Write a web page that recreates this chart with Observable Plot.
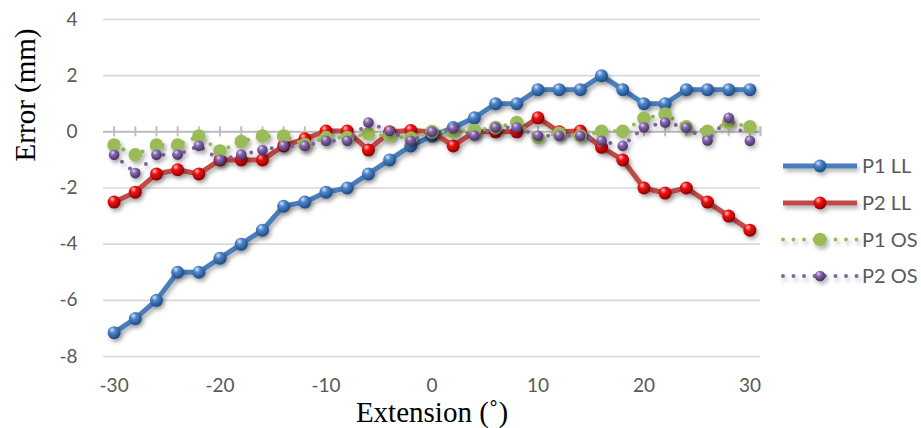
<!DOCTYPE html>
<html>
<head>
<meta charset="utf-8">
<script src="https://cdn.jsdelivr.net/npm/d3@7"></script>
<script src="https://cdn.jsdelivr.net/npm/@observablehq/plot@0.6"></script>
<style>
  html, body { margin: 0; padding: 0; background: #ffffff; }
  #chart { position: relative; width: 921px; height: 428px; }
</style>
</head>
<body>
<div id="chart"></div>
<script>
// ---- data ----
const extension = [-30,-28,-26,-24,-22,-20,-18,-16,-14,-12,-10,-8,-6,-4,-2,0,2,4,6,8,10,12,14,16,18,20,22,24,26,28,30];
const p1LL = [-7.15,-6.65,-6.0,-5.0,-5.0,-4.5,-4.0,-3.5,-2.65,-2.5,-2.15,-2.0,-1.5,-1.0,-0.5,-0.15,0.15,0.5,1.0,1.0,1.5,1.5,1.5,2.0,1.5,1.0,1.0,1.5,1.5,1.5,1.5];
const p2LL = [-2.5,-2.15,-1.5,-1.35,-1.5,-1.0,-1.0,-1.0,-0.5,-0.25,0.03,0.03,-0.65,0,0.05,0,-0.5,0,0,0,0.5,0,0.03,-0.55,-1.0,-2.0,-2.18,-2.0,-2.5,-3.0,-3.5];
const p1OS = [-0.47,-0.82,-0.47,-0.47,-0.15,-0.68,-0.35,-0.15,-0.15,-0.45,-0.2,-0.2,-0.07,-0.15,-0.22,0,0,0.05,0.15,0.33,-0.2,-0.05,-0.15,0.02,0.02,0.48,0.63,0.18,0.02,0.33,0.18];
const p2OS = [-0.82,-1.47,-0.82,-0.81,-0.5,-1.0,-0.81,-0.65,-0.5,-0.5,-0.32,-0.32,0.33,0.03,-0.32,0,0.12,-0.13,0.15,0.15,-0.14,-0.14,-0.14,-0.32,-0.5,0.16,0.33,0.15,-0.31,0.5,-0.32];
const seriesNames = ["P1 LL","P2 LL","P1 OS","P2 OS"];
const yTicks = [4,2,0,-2,-4,-6,-8];
const xTicks = [-30,-20,-10,0,10,20,30];
const xTickMarks = [...extension, 31];
const xTitle = "Extension (˚)";
const yTitle = "Error (mm)";

// ---- styles ----
const styles = {
  "P1 LL": {line:"#4a7ebb", width:5, dash:null, fill:"url(#gBlue)", r:6.5},
  "P2 LL": {line:"#be4b48", width:5, dash:null, fill:"url(#gRed)", r:6.5},
  "P1 OS": {line:"#9bbb59", width:4, dash:"0 10.5", fill:"#9bbb59", r:6.8},
  "P2 OS": {line:"#8064a2", width:4, dash:"0 10.5", fill:"url(#gPurple)", r:5.3}
};
const valuesBySeries = {"P1 LL": p1LL, "P2 LL": p2LL, "P1 OS": p1OS, "P2 OS": p2OS};
const tables = {};
for (const s of seriesNames) tables[s] = extension.map((x, i) => ({x, y: valuesBySeries[s][i], s}));

const seriesMarks = [];
for (const s of seriesNames) {
  const st = styles[s];
  const lineOpts = {x: "x", y: "y", stroke: st.line, strokeWidth: st.width, strokeLinecap: "round", strokeLinejoin: "round"};
  if (st.dash) lineOpts.strokeDasharray = st.dash;
  seriesMarks.push(Plot.line(tables[s], lineOpts));
  seriesMarks.push(Plot.dot(tables[s], {x: "x", y: "y", r: st.r, fill: st.fill, stroke: "none"}));
}

const font = "Lato, 'Open Sans', sans-serif";
const serif = "'Liberation Serif', 'Times New Roman', serif";
const plot = Plot.plot({
  width: 921, height: 428,
  marginLeft: 103, marginRight: 161, marginTop: 19, marginBottom: 72,
  style: {fontFamily: font, background: "#ffffff", overflow: "visible"},
  x: {domain: [-31, 31]},
  y: {domain: [-8, 4]},
  marks: [
    Plot.gridY(yTicks, {stroke: "#d9d9d9", strokeOpacity: 1, strokeWidth: 1.6}),
    Plot.ruleY([0], {stroke: "#bfbfbf", strokeWidth: 2}),
    Plot.ruleX(xTickMarks, {x: d => d, y1: 0, y2: 0, insetTop: -5, insetBottom: -5, stroke: "#bfbfbf", strokeWidth: 2}),
    Plot.axisY(yTicks, {tickSize: 0, tickPadding: 26, fontSize: 19, fill: "#595959", label: null, tickFormat: d => String(d)}),
    Plot.axisX(xTicks, {tickSize: 0, tickPadding: 22, fontSize: 19, fill: "#595959", label: null, tickFormat: d => String(d)}),
    ...seriesMarks,
    Plot.text([xTitle], {frameAnchor: "bottom", dy: 65, fontSize: 29, fontFamily: serif, fill: "#000000", lineAnchor: "bottom"}),
    Plot.text([yTitle], {frameAnchor: "top-left", dx: -78, dy: 9, rotate: -90, textAnchor: "end", lineAnchor: "middle", fontSize: 29, fontFamily: serif, fill: "#000000"})
  ]
});
document.getElementById("chart").appendChild(plot);

// ---- defs: gradients and shadow ----
const svg = d3.select(plot);
const defs = svg.insert("defs", ":first-child");
function sphere(id, c0, c1, c2) {
  const g = defs.append("radialGradient").attr("id", id).attr("cx", "38%").attr("cy", "32%").attr("r", "68%").attr("fx", "35%").attr("fy", "28%");
  g.append("stop").attr("offset", "0%").attr("stop-color", c0);
  g.append("stop").attr("offset", "35%").attr("stop-color", c1);
  g.append("stop").attr("offset", "100%").attr("stop-color", c2);
}
sphere("gBlue", "#d6e6fa", "#4f86cc", "#1d4a82");
sphere("gRed", "#ffc4c4", "#f51212", "#8a0000");
sphere("gPurple", "#e2d6f0", "#8869b0", "#463061");
const f = defs.append("filter").attr("id", "shadow").attr("filterUnits", "userSpaceOnUse")
  .attr("x", 0).attr("y", 0).attr("width", 921).attr("height", 428);
f.append("feDropShadow").attr("dx", 2).attr("dy", 3).attr("stdDeviation", 2).attr("flood-color", "#000").attr("flood-opacity", 0.3);
svg.selectAll('g[aria-label="line"], g[aria-label="dot"]').attr("filter", "url(#shadow)");

// ---- legend ----
const legendY = [166, 203, 239.5, 276];
const lg = svg.append("g").attr("font-family", font).attr("text-anchor", "start");
seriesNames.forEach((s, i) => {
  const st = styles[s];
  const y = legendY[i];
  const g = lg.append("g").attr("filter", "url(#shadow)");
  const ln = g.append("line").attr("x1", 783).attr("x2", 857).attr("y1", y).attr("y2", y)
    .attr("stroke", st.line).attr("stroke-width", st.width).attr("stroke-linecap", st.dash ? "round" : "butt");
  if (st.dash) ln.attr("stroke-dasharray", st.dash);
  g.append("circle").attr("cx", 820).attr("cy", y).attr("r", st.r).attr("fill", st.fill);
  lg.append("text").attr("x", 862).attr("y", y).attr("dy", "0.35em").attr("font-size", 20).attr("fill", "#595959").text(s);
});
</script>
</body>
</html>
